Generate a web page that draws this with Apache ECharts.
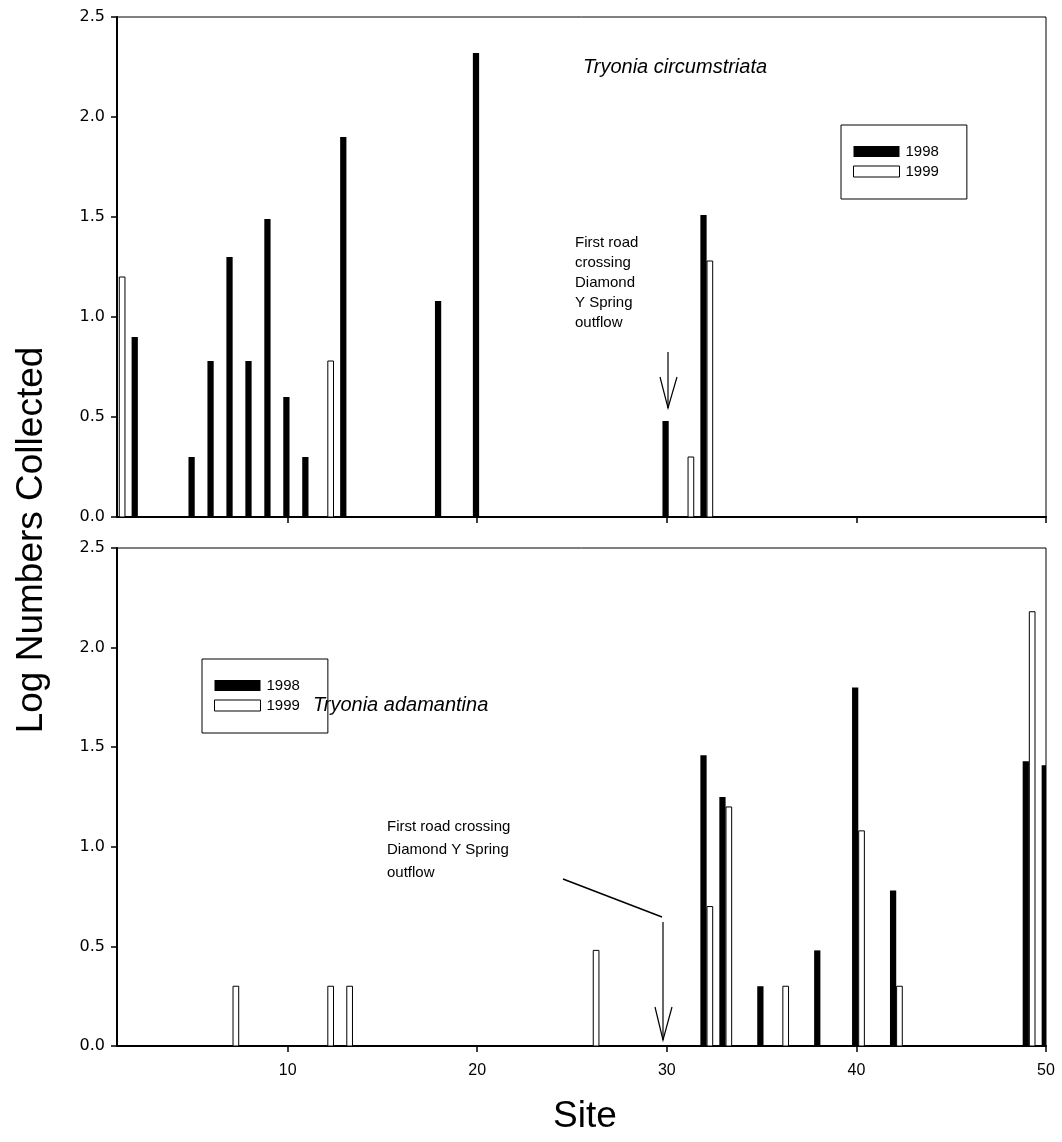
<!DOCTYPE html>
<html>
<head>
<meta charset="utf-8">
<script src="https://cdn.jsdelivr.net/npm/echarts@6/dist/echarts.min.js"></script>
<style>
  html, body { margin: 0; padding: 0; background: #fff; }
  #chart { width: 1062px; height: 1142px; }
</style>
</head>
<body>
<div id="chart"></div>
<script>
// Tryonia circumstriata (upper panel)
const topSites1998 = [2, 5, 6, 7, 8, 9, 10, 11, 13, 18, 20, 30, 32]
const topVals1998 = [0.9, 0.3, 0.78, 1.3, 0.78, 1.49, 0.6, 0.3, 1.9, 1.08, 2.32, 0.48, 1.51]
const topSites1999 = [1, 12, 31, 32]
const topVals1999 = [1.2, 0.78, 0.3, 1.28]

// Tryonia adamantina (lower panel)
const botSites1998 = [32, 33, 35, 38, 40, 42, 49, 50]
const botVals1998 = [1.46, 1.25, 0.3, 0.48, 1.8, 0.78, 1.43, 1.41]
const botSites1999 = [7, 12, 13, 26, 32, 33, 36, 40, 42, 49]
const botVals1999 = [0.3, 0.3, 0.3, 0.48, 0.7, 1.2, 0.3, 1.08, 0.3, 2.18]

const siteTicks = [10, 20, 30, 40, 50]
const years = ['1998', '1999']

const font = 'Liberation Sans, Arial, sans-serif'
const zip = (a, b) => a.map((s, i) => [s, b[i]])

// bar drawn between site+off0 and site+off1 in axis units
function barRender (off0, off1) {
  return function (params, api) {
    let x = api.value(0)
    let v = api.value(1)
    let p0 = api.coord([x + off0, v])
    let p1 = api.coord([x + off1, 0])
    return {
      type: 'rect',
      shape: { x: p0[0], y: p0[1], width: p1[0] - p0[0], height: p1[1] - p0[1] },
      style: api.style()
    }
  }
}

const blackStyle = { color: '#000', borderColor: '#000', borderWidth: 0 }
const whiteStyle = { color: '#fff', borderColor: '#000', borderWidth: 1 }

function xAxis (grid, showLabels) {
  return {
    type: 'value', gridIndex: grid, min: 1, max: 50,
    axisLine: { lineStyle: { color: '#000', width: 2 } },
    axisTick: { show: true, customValues: siteTicks, length: 6, lineStyle: { color: '#000', width: 1.5 } },
    axisLabel: { show: showLabels, customValues: siteTicks, margin: 17, color: '#000', fontSize: 16, fontFamily: font },
    splitLine: { show: false }
  }
}

function yAxis (grid) {
  return {
    type: 'value', gridIndex: grid, min: 0, max: 2.5, interval: 0.5,
    axisLine: { show: true, lineStyle: { color: '#000', width: 2 } },
    axisTick: { show: true, length: 6, lineStyle: { color: '#000', width: 1.5 } },
    axisLabel: { margin: 12, color: '#000', fontSize: 16, fontFamily: 'DejaVu Sans, sans-serif',
      formatter: v => v.toFixed(1) },
    splitLine: { show: false }
  }
}

function legend (left, top) {
  return {
    orient: 'vertical', left, top,
    icon: 'rect', itemWidth: 46, itemHeight: 11, itemGap: 5,
    padding: [19, 28, 20, 12],
    borderColor: '#000', borderWidth: 1,
    textStyle: { color: '#000', fontSize: 15, fontFamily: font, padding: [0, 0, 0, 1] },
    selectedMode: false,
    data: [
      { name: '1998', itemStyle: blackStyle },
      { name: '1999', itemStyle: whiteStyle }
    ]
  }
}

function series (name, grid, data, off0, off1, style) {
  return {
    type: 'custom', name, xAxisIndex: grid, yAxisIndex: grid,
    clip: true, silent: true,
    itemStyle: style,
    renderItem: barRender(off0, off1),
    encode: { x: 0, y: 1 },
    data
  }
}

const chart = echarts.init(document.getElementById('chart'), null, { renderer: 'canvas' })

const noteStyle = { fill: '#000', fontSize: 15, fontFamily: font }

chart.setOption({
  backgroundColor: '#fff',
  animation: false,
  grid: [
    { left: 117, top: 17, width: 929, height: 500, show: true, borderColor: '#000', borderWidth: 1 },
    { left: 117, top: 548, width: 929, height: 498, show: true, borderColor: '#000', borderWidth: 1 }
  ],
  xAxis: [xAxis(0, false), xAxis(1, true)],
  yAxis: [yAxis(0), yAxis(1)],
  legend: [legend(841, 125), legend(202, 659)],
  title: [
    { text: 'Tryonia circumstriata', left: 583, top: 57, padding: 0,
      textStyle: { fontSize: 20, fontStyle: 'italic', fontWeight: 'normal', color: '#000', fontFamily: font } },
    { text: 'Tryonia adamantina', left: 313, top: 695, padding: 0,
      textStyle: { fontSize: 20, fontStyle: 'italic', fontWeight: 'normal', color: '#000', fontFamily: font } }
  ],
  series: [
    series('1998', 0, zip(topSites1998, topVals1998), -0.23, 0.1, blackStyle),
    series('1999', 0, zip(topSites1999, topVals1999), 0.12, 0.42, whiteStyle),
    series('1998', 1, zip(botSites1998, botVals1998), -0.23, 0.1, blackStyle),
    series('1999', 1, zip(botSites1999, botVals1999), 0.12, 0.42, whiteStyle)
  ],
  graphic: [
    // axis names
    { type: 'text', x: 32, y: 540, rotation: Math.PI / 2,
      style: { text: 'Log Numbers Collected', fill: '#000', fontSize: 37, fontFamily: font, align: 'center', verticalAlign: 'middle' } },
    { type: 'text', x: 585, y: 1117,
      style: { text: 'Site', fill: '#000', fontSize: 37, fontFamily: font, align: 'center', verticalAlign: 'middle' } },
    // upper note + arrow
    { type: 'text', x: 575, y: 233,
      style: Object.assign({ text: 'First road\ncrossing\nDiamond\nY Spring\noutflow', lineHeight: 20 }, noteStyle) },
    { type: 'polyline', shape: { points: [[668, 352], [668, 408]] }, style: { stroke: '#000', lineWidth: 1.2, fill: null } },
    { type: 'polyline', shape: { points: [[660, 377], [668, 408], [677, 377]] }, style: { stroke: '#000', lineWidth: 1.2, fill: null } },
    // lower note + arrow
    { type: 'text', x: 387, y: 815,
      style: Object.assign({ text: 'First road crossing\nDiamond Y Spring\noutflow', lineHeight: 23 }, noteStyle) },
    { type: 'polyline', shape: { points: [[563, 879], [662, 917]] }, style: { stroke: '#000', lineWidth: 1.5, fill: null } },
    { type: 'polyline', shape: { points: [[663, 922], [663, 1040]] }, style: { stroke: '#000', lineWidth: 1.2, fill: null } },
    { type: 'polyline', shape: { points: [[655, 1007], [663, 1040], [672, 1007]] }, style: { stroke: '#000', lineWidth: 1.2, fill: null } }
  ]
})
</script>
</body>
</html>
